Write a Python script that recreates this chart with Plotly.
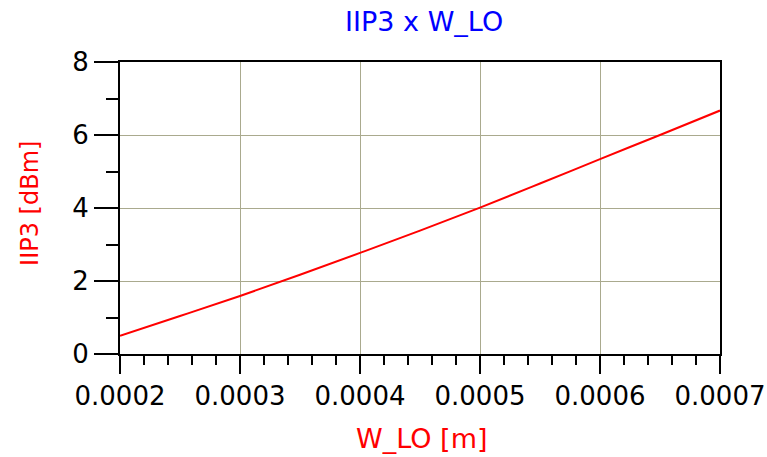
import plotly.graph_objects as go

w_lo = [0.0002, 0.00025, 0.0003, 0.00035, 0.0004, 0.00045, 0.0005, 0.00055, 0.0006, 0.00065, 0.0007]
iip3 = [0.50, 1.04, 1.59, 2.17, 2.77, 3.38, 4.01, 4.67, 5.34, 6.00, 6.67]

x_ticks = [0.0002, 0.0003, 0.0004, 0.0005, 0.0006, 0.0007]
x_tick_labels = ["0.0002", "0.0003", "0.0004", "0.0005", "0.0006", "0.0007"]
y_ticks = [0, 2, 4, 6, 8]

font = "DejaVu Sans, Liberation Sans, Arial, sans-serif"
grid = "#aaaa8e"

fig = go.Figure()
fig.add_trace(go.Scatter(x=w_lo, y=iip3, mode="lines", line_shape="spline",
                         line=dict(color="#ff0000", width=2), showlegend=False))

fig.update_layout(
    width=767, height=457,
    margin=dict(l=120, r=47, t=62, b=103),
    paper_bgcolor="white", plot_bgcolor="white",
    title=dict(text="IIP3 x W_LO", x=0.553, xanchor="center", y=0.952, yanchor="middle",
               font=dict(family=font, size=27, color="#0000ff")),
    font=dict(family=font, size=26, color="black"),
    annotations=[
        dict(text="W_LO [m]", xref="paper", yref="paper", x=0.5025, y=-0.2877,
             xanchor="center", yanchor="middle", showarrow=False,
             font=dict(family=font, size=27, color="#ff0000")),
        dict(text="IIP3 [dBm]", xref="paper", yref="paper", x=-0.15, y=0.514,
             xanchor="center", yanchor="middle", showarrow=False, textangle=-90,
             font=dict(family=font, size=24, color="#ff0000")),
    ],
)
fig.update_xaxes(
    range=[0.0002, 0.0007], tickvals=x_ticks, ticktext=x_tick_labels,
    ticks="outside", ticklen=18, tickwidth=2, tickcolor="black",
    showline=True, linecolor="black", linewidth=2, mirror=True,
    showgrid=True, gridcolor=grid, gridwidth=1, zeroline=False, automargin=False,
    tickfont=dict(family=font, size=26, color="black"),
    minor=dict(dtick=0.00002, tick0=0.0002, ticks="outside", ticklen=9, tickwidth=1.5,
               tickcolor="black", showgrid=False),
)
fig.update_yaxes(
    range=[0, 8], tickvals=y_ticks,
    ticks="outside", ticklen=24, tickwidth=2, tickcolor="black",
    showline=True, linecolor="black", linewidth=2, mirror=True,
    showgrid=True, gridcolor=grid, gridwidth=1, zeroline=False, automargin=False,
    tickfont=dict(family=font, size=26, color="black"),
    minor=dict(dtick=1, tick0=0, ticks="outside", ticklen=12, tickwidth=1.5,
               tickcolor="black", showgrid=False),
)

fig.write_html("out.html", config={"displayModeBar": False},
               post_script="document.body.style.margin='0';")
